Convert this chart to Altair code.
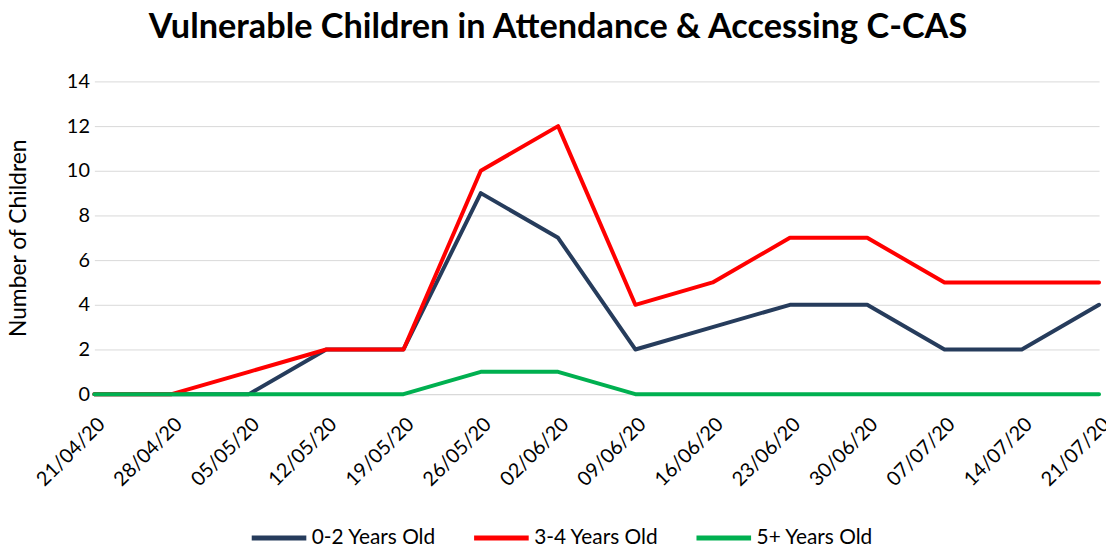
import altair as alt
import pandas as pd

dates = ["21/04/20", "28/04/20", "05/05/20", "12/05/20", "19/05/20", "26/05/20", "02/06/20",
         "09/06/20", "16/06/20", "23/06/20", "30/06/20", "07/07/20", "14/07/20", "21/07/20"]
s_0_2 = [0, 0, 0, 2, 2, 9, 7, 2, 3, 4, 4, 2, 2, 4]
s_3_4 = [0, 0, 1, 2, 2, 10, 12, 4, 5, 7, 7, 5, 5, 5]
s_5 = [0, 0, 0, 0, 0, 1, 1, 0, 0, 0, 0, 0, 0, 0]
series = ["0-2 Years Old", "3-4 Years Old", "5+ Years Old"]
colors = ["#263C5C", "#FF0000", "#00B050"]
y_ticks = [0, 2, 4, 6, 8, 10, 12, 14]

rows = []
for name, vals in zip(series, [s_0_2, s_3_4, s_5]):
    for d, v in zip(dates, vals):
        rows.append({"date": d, "value": v, "series": name})
df = pd.DataFrame(rows)

FONT = "Lato"

chart = alt.Chart(df).mark_line(strokeWidth=4, strokeJoin="round", strokeCap="round").encode(
    x=alt.X("date:N", sort=dates, scale=alt.Scale(type="point", padding=0),
            axis=alt.Axis(title=None, labelAngle=-45, labelAlign="right", labelBaseline="top",
                          labelFontSize=20, labelFont=FONT, labelColor="#000000", labelPadding=20,
                          ticks=False, grid=False, domainColor="#D9D9D9", domainWidth=1)),
    y=alt.Y("value:Q", scale=alt.Scale(domain=[0, 14], nice=False),
            axis=alt.Axis(values=y_ticks, title="Number of Children", titleFont=FONT,
                          titleFontSize=23, titleFontWeight="normal", titleColor="#000000",
                          titlePadding=36, labelFont=FONT, labelFontSize=20,
                          labelColor="#000000", labelPadding=5, ticks=False, domain=False,
                          grid=True, gridColor="#D9D9D9", gridWidth=1)),
    color=alt.Color("series:N", scale=alt.Scale(domain=series, range=colors),
                    legend=alt.Legend(title=None, orient="none", direction="horizontal",
                                      legendX=156, legendY=430, symbolType="stroke",
                                      symbolSize=3025, symbolStrokeWidth=5,
                                      labelFont=FONT, labelFontSize=21, labelColor="#000000",
                                      labelOffset=3, columnPadding=27, labelLimit=300)),
).properties(
    width=1012, height=315,
    autosize=alt.AutoSizeParams(type="none"),
    padding={"left": 87, "top": 72, "right": 7, "bottom": 151},
    title=alt.Title("Vulnerable Children in Attendance & Accessing C-CAS", font=FONT,
                    fontSize=34.5, fontWeight="bold", color="#000000", anchor="middle",
                    dx=-39, offset=26),
).configure_view(stroke=None)

chart.save("out.html", embed_options={"renderer": "svg", "actions": False})
